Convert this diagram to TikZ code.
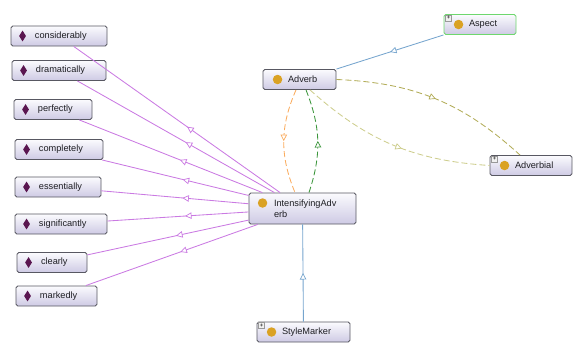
\documentclass[tikz,border=0pt]{standalone}
\usepackage{fontspec}
\setmainfont{Liberation Sans}
\usetikzlibrary{arrows.meta,decorations.markings,shapes.geometric,calc}

\definecolor{boxtop}{RGB}{251,251,254}
\definecolor{boxbot}{RGB}{206,202,228}
\definecolor{boxline}{RGB}{88,88,98}
\definecolor{aspectline}{RGB}{110,215,110}
\definecolor{indcol}{RGB}{90,22,80}
\definecolor{clscol}{RGB}{218,162,36}
\definecolor{indedge}{RGB}{202,122,226}
\definecolor{subedge}{RGB}{118,165,206}
\definecolor{orangeedge}{RGB}{250,172,95}
\definecolor{greenedge}{RGB}{60,150,60}
\definecolor{oliveedge}{RGB}{178,172,88}
\definecolor{oliveedgelt}{RGB}{205,205,140}
\definecolor{textcol}{RGB}{30,30,35}

\begin{document}
\begin{tikzpicture}[x=1pt,y=-1pt,
  box/.style={draw=boxline, line width=0.9pt, rounded corners=1.8pt,
    top color=boxtop, bottom color=boxbot, inner xsep=0pt, inner ysep=2pt,
    minimum height=20pt, align=left, text=textcol,
    font=\fontsize{9.2}{11.5}\selectfont},
  ind/.style={box, text width=#1},
  cls/.style={box, text width=#1},
  indicon/.style={diamond, aspect=0.6, fill=indcol, inner sep=0pt,
    minimum width=7pt, minimum height=11pt},
  clsicon/.style={circle, fill=clscol, inner sep=0pt, minimum size=9.5pt},
  plusbox/.style={rectangle, draw=gray!80, fill=gray!12, line width=0.4pt,
    inner sep=0pt, minimum size=6pt, font=\fontsize{6}{6}\selectfont},
  link/.style={line width=0.85pt},
  midfwd/.style={postaction={decorate}, decoration={markings,
    mark=at position #1 with {\arrow[solid,line width=0.7pt]{Triangle[open,fill=white,length=6.5pt,width=6.5pt]}}}},
  midrev/.style={postaction={decorate}, decoration={markings,
    mark=at position #1 with {\arrowreversed[solid,line width=0.7pt]{Triangle[open,fill=white,length=6.5pt,width=6.5pt]}}}},
  dashlink/.style={link, dash pattern=on 6pt off 3pt}
]
\useasboundingbox (0,0) rectangle (573,343);

% individuals
\node[ind=96pt] (considerably)  at (59,36)    {\hspace*{24pt}considerably};
\node[ind=94pt] (dramatically)  at (59,70.5)  {\hspace*{24pt}dramatically};
\node[ind=78pt] (perfectly)     at (53,109.5) {\hspace*{24pt}perfectly};
\node[ind=88pt] (completely)    at (59,149.5) {\hspace*{24pt}completely};
\node[ind=86pt] (essentially)   at (58,187)   {\hspace*{24pt}essentially};
\node[ind=92pt] (significantly) at (61,224)   {\hspace*{24pt}significantly};
\node[ind=70pt] (clearly)       at (52,262.5) {\hspace*{24pt}clearly};
\node[ind=81pt] (markedly)      at (56.5,296) {\hspace*{24pt}markedly};

% classes
\node[cls=73pt] (Adverb)      at (299.5,79.5) {\hspace*{25pt}Adverb};
\node[cls=72pt, draw=aspectline] (Aspect) at (480,24.5) {\hspace*{25pt}Aspect};
\node[cls=82pt] (Adverbial)   at (531,165.5)  {\hspace*{25pt}Adverbial};
\node[cls=93pt] (StyleMarker) at (303.5,332)  {\hspace*{25pt}StyleMarker};
\node[cls=107pt, minimum height=31pt] (intensifying) at (302.5,208.5)
  {\hspace*{25pt}IntensifyingAdv\\\hspace*{25pt}erb};

% icons
\foreach \n in {considerably,dramatically,perfectly,completely,essentially,significantly,clearly,markedly}
  \node[indicon] (\n-icon) at ([xshift=12pt]\n.west) {};
\foreach \n in {Adverb,Aspect,Adverbial,StyleMarker}
  \node[clsicon] (\n-icon) at ([xshift=15pt]\n.west) {};
\node[clsicon] (intensifying-icon) at ([xshift=14pt,yshift=5.5pt]intensifying.west) {};

% expand markers
\foreach \n in {Aspect,Adverbial,StyleMarker}
  \node[plusbox] (\n-plus) at ([xshift=5pt,yshift=-4pt]\n.north west) {+};

% individual links
\foreach \n in {considerably,dramatically,perfectly,completely,essentially,significantly,clearly,markedly}
  \draw[link, draw=indedge, midrev=0.55] (\n) -- (intensifying);

% subclass links
\draw[link, draw=subedge, midrev=0.5] (Adverb.north east) -- (Aspect.south west);
\draw[link, draw=subedge, midfwd=0.5] (StyleMarker) -- (intensifying);

% curved relations between Adverb and IntensifyingAdverb
\coordinate (or-a) at ([xshift=-3.5pt]Adverb.south);
\coordinate (or-b) at ([xshift=-7.5pt]intensifying.north);
\coordinate (gr-a) at ([xshift=6.5pt]intensifying.north);
\coordinate (gr-b) at ([xshift=6.5pt]Adverb.south);
\draw[dashlink, draw=orangeedge, midfwd=0.5] (or-a) to[bend right=23] (or-b);
\draw[dashlink, draw=greenedge, midfwd=0.5] (gr-a) to[bend right=20] (gr-b);

% relations between Adverb and Adverbial
\coordinate (ol-a) at (Adverb.east);
\coordinate (ol-b) at ([xshift=-11pt]Adverbial.north);
\coordinate (ol-c) at ([xshift=10.5pt]Adverb.south);
\draw[dashlink, draw=oliveedge, midfwd=0.5] (ol-a) to[bend left=20] (ol-b);
\draw[dashlink, draw=oliveedgelt, midfwd=0.55] (ol-c) to[bend right=19] (Adverbial.west);
\end{tikzpicture}
\end{document}
